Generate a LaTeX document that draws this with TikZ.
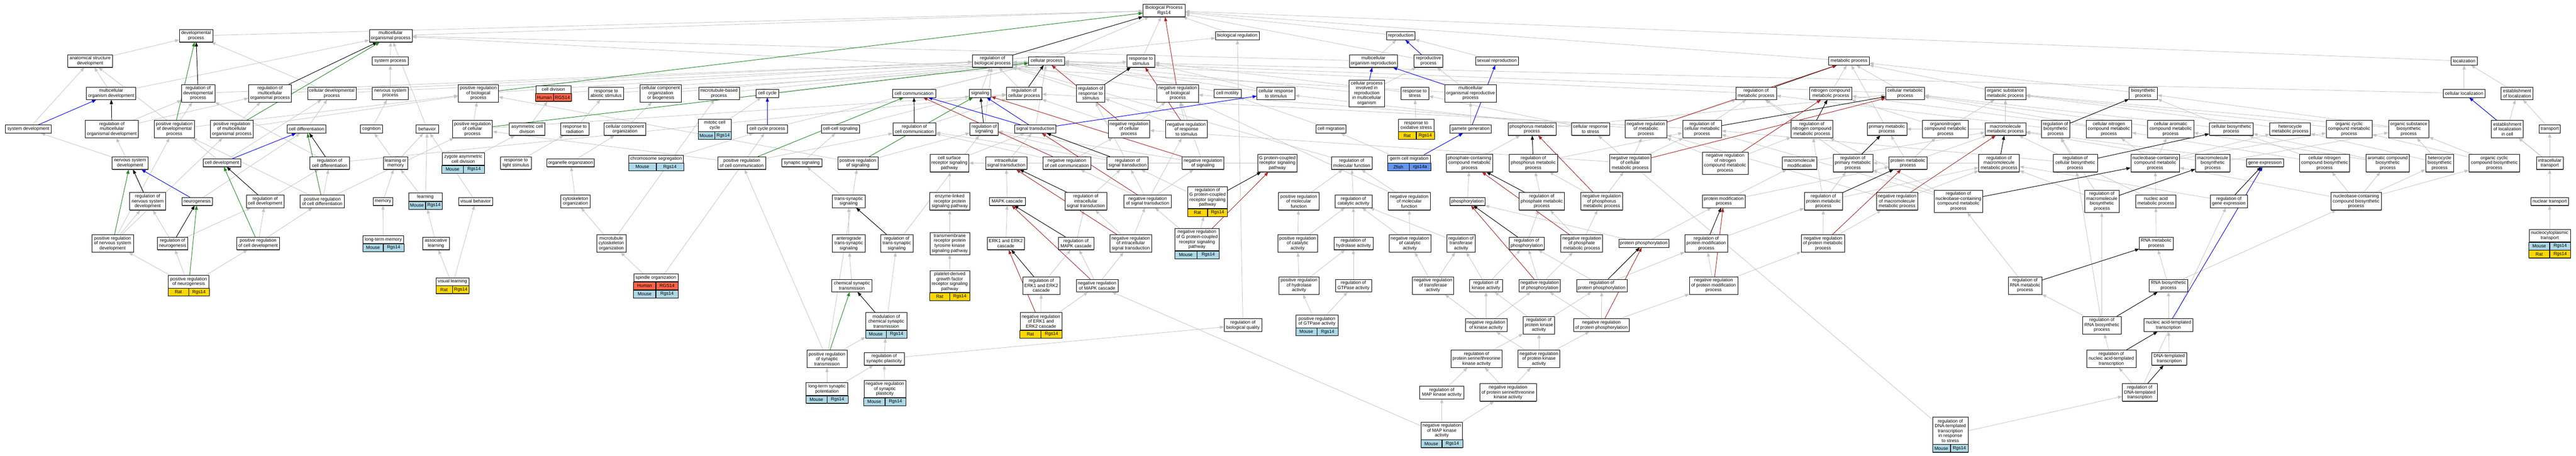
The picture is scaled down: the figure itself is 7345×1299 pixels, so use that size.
\documentclass[tikz,border=0pt]{standalone}
\usepackage{fontspec}
\setmainfont{Liberation Sans}
\usepackage{tikz}
\usetikzlibrary{positioning, arrows, arrows.meta, shapes, calc, fit, shadows, backgrounds}
\definecolor{mousebg}{HTML}{ADD8E6}
\definecolor{ratbg}{HTML}{FFD700}
\definecolor{humanbg}{HTML}{FF6347}
\definecolor{fishbg}{HTML}{6495ED}
\definecolor{isagray}{HTML}{C4C4C4}
\definecolor{posgreen}{HTML}{228B22}
\definecolor{negred}{HTML}{B22222}
\tikzstyle{term} = [rectangle, draw=black, line width=0.9pt, fill=white, align=center, inner xsep=3pt, inner ysep=1pt, font=\fontsize{13}{14}\selectfont, drop shadow={shadow xshift=0.4pt, shadow yshift=-1.4pt, fill=black!60, opacity=1}]
\tikzstyle{oneline} = [term, minimum height=23pt]
\tikzstyle{twoline} = [term, minimum height=36pt]
\tikzstyle{threeline} = [term, minimum height=50pt]
\tikzstyle{fourline} = [term, minimum height=63pt]
\tikzstyle{fiveline} = [term, minimum height=77pt]
\tikzstyle{mouse} = [term, fill=mousebg, minimum height=22pt]
\tikzstyle{rat} = [term, fill=ratbg, minimum height=22pt]
\tikzstyle{human} = [term, fill=humanbg, minimum height=22pt]
\tikzstyle{zfish} = [term, fill=fishbg, minimum height=22pt]
\tikzstyle{isa} = [draw=isagray, line width=1.2pt, -{Triangle[length=12pt,width=9pt]}]
\tikzstyle{regarrow} = [draw=black, line width=1.4pt, -{Triangle[length=12pt,width=9pt]}]
\tikzstyle{posarrow} = [draw=posgreen, line width=1.4pt, -{Triangle[length=12pt,width=9pt]}]
\tikzstyle{negarrow} = [draw=negred, line width=1.4pt, -{Triangle[length=12pt,width=9pt]}]
\tikzstyle{partarrow} = [draw=blue, line width=1.4pt, -{Triangle[length=12pt,width=9pt]}]
\tikzset{wd/.style={minimum width=#1}}
% annotated term: name, x, y, width, title height, row style, species, gene, title
\newcommand{\goannot}[9]{%
  \node (#1T) [term, wd=#4pt, minimum height=#5pt] at (#2,#3) {#9};
  \node (#1S) [#6, wd=#4pt/2, anchor=north east] at (#1T.south) {#7};
  \node (#1G) [#6, wd=#4pt/2, anchor=north west] at (#1T.south) {#8};
  \node (#1) [fit=(#1T)(#1S)(#1G), inner sep=0pt] {};}

\begin{document}
\begin{tikzpicture}[x=1pt, y=-1pt]
        \useasboundingbox (0,0) rectangle (7345,1299);

        \node (bp) [twoline, wd=120pt] at (3319,30) {Biological Process\\Rgs14};

        \node (devproc) [twoline, wd=95pt] at (559,102) {developmental\\process};
        \node (multiproc) [twoline, wd=122pt] at (1114,102) {multicellular\\organismal process};
        \node (bioreg) [oneline, wd=124pt] at (3528,102) {biological regulation};
        \node (reprod) [oneline, wd=80pt] at (3994,102) {reproduction};

        \node (anat) [twoline, wd=128pt] at (257,174) {anatomical structure\\development};
        \node (sysproc) [oneline, wd=103pt] at (1113,174) {system process};
        \node (regbp) [twoline, wd=115pt] at (2830,174) {regulation of\\biological process};
        \node (cellproc) [oneline, wd=102pt] at (2984,174) {cellular process};
        \node (respstim) [twoline, wd=79pt] at (3253,174) {response to\\stimulus};
        \node (multirep) [twoline, wd=138pt] at (3916,174) {multicellular\\organism reproduction};
        \node (repproc) [twoline, wd=82pt] at (4073,174) {reproductive\\process};
        \node (sexrep) [oneline, wd=122pt] at (4268,174) {sexual reproduction};
        \node (metproc) [oneline, wd=115pt] at (5272,174) {metabolic process};
        \node (local) [oneline, wd=75pt] at (7026,174) {localization};

        \node (multidev) [twoline, wd=141pt] at (317,266) {multicellular\\organism development};
        \node (regdev) [threeline, wd=95pt] at (565,266) {regulation of\\developmental\\process};
        \node (regmulti) [threeline, wd=122pt] at (770,266) {regulation of\\multicellular\\organismal process};
        \node (celldevproc) [twoline, wd=138pt] at (946,266) {cellular developmental\\process};
        \node (nsproc) [twoline, wd=103pt] at (1113,266) {nervous system\\process};
        \node (posregbp) [threeline, wd=114pt] at (1364,266) {positive regulation\\of biological\\process};
        \goannot{celldiv}{1578}{255}{101}{22}{human}{Human}{RGS14}{cell division}
        \node (respabio) [twoline, wd=101pt] at (1728,266) {response to\\abiotic stimulus};
        \node (ccob) [threeline, wd=118pt] at (1884,266) {cellular component\\organization\\or biogenesis};
        \node (mtproc) [twoline, wd=116pt] at (2050,266) {microtubule-based\\process};
        \node (cellcycle) [oneline, wd=64pt] at (2188,266) {cell cycle};
        \node (cellcomm) [oneline, wd=123pt] at (2606,266) {cell communication};
        \node (signaling) [oneline, wd=62pt] at (2795,266) {signaling};
        \node (regcellproc) [twoline, wd=101pt] at (2920,266) {regulation of\\cellular process};
        \node (regresp) [threeline, wd=81pt] at (3110,266) {regulation of\\response to\\stimulus};
        \node (negregbp) [threeline, wd=118pt] at (3358,266) {negative regulation\\of biological\\process};
        \node (cellmot) [oneline, wd=77pt] at (3500,266) {cell motility};
        \node (cellrespstim) [twoline, wd=108pt] at (3638,266) {cellular response\\to stimulus};
        \node (celrepmulti) [fiveline, wd=101pt] at (3897,266) {cellular process\\involved in\\reproduction\\in multicellular\\organism};
        \node (respstress) [twoline, wd=79pt] at (4034,266) {response to\\stress};
        \node (multireprod) [threeline, wd=148pt] at (4193,266) {multicellular\\organismal reproductive\\process};
        \node (regmet) [twoline, wd=116pt] at (5007,266) {regulation of\\metabolic process};
        \node (nitromet) [twoline, wd=120pt] at (5220,266) {nitrogen compound\\metabolic process};
        \node (cellmet) [twoline, wd=110pt] at (5432,266) {cellular metabolic\\process};
        \node (orgsubmet) [twoline, wd=116pt] at (5718,266) {organic substance\\metabolic process};
        \node (biosyn) [twoline, wd=81pt] at (6111,266) {biosynthetic\\process};
        \node (cellloc) [oneline, wd=119pt] at (7026,266) {cellular localization};
        \node (estloc) [twoline, wd=91pt] at (7177,266) {establishment\\of localization};

        \node (sysdev) [oneline, wd=131pt] at (81,368) {system development};
        \node (regmultidev) [threeline, wd=151pt] at (319,368) {regulation of\\multicellular\\organismal development};
        \node (posregdev) [threeline, wd=115pt] at (497,368) {positive regulation\\of developmental\\process};
        \node (posregmulti) [threeline, wd=122pt] at (661,368) {positive regulation\\of multicellular\\organismal process};
        \node (celldiff) [oneline, wd=111pt] at (874,368) {cell differentiation};
        \node (cognition) [oneline, wd=63pt] at (1059,368) {cognition};
        \node (behavior) [oneline, wd=65pt] at (1218,368) {behavior};
        \node (posregcellproc) [threeline, wd=114pt] at (1347,368) {positive regulation\\of cellular\\process};
        \node (asymdiv) [twoline, wd=101pt] at (1503,368) {asymmetric cell\\division};
        \node (resprad) [twoline, wd=80pt] at (1639,368) {response to\\radiation};
        \node (cco) [twoline, wd=119pt] at (1782,368) {cellular component\\organization};
        \goannot{mitotic}{2038}{357}{94}{35}{mouse}{Mouse}{Rgs14}{mitotic cell\\cycle}
        \node (ccproc) [oneline, wd=114pt] at (2188,368) {cell cycle process};
        \node (ccsig) [oneline, wd=109pt] at (2396,368) {cell-cell signaling};
        \node (regcellcomm) [twoline, wd=123pt] at (2607,368) {regulation of\\cell communication};
        \node (regsig) [twoline, wd=81pt] at (2806,368) {regulation of\\signaling};
        \node (sigtrans) [oneline, wd=118pt] at (2952,368) {signal transduction};
        \node (negregcellproc) [threeline, wd=118pt] at (3219,368) {negative regulation\\of cellular\\process};
        \node (negregresp) [threeline, wd=118pt] at (3383,368) {negative regulation\\of response\\to stimulus};
        \node (cellmig) [oneline, wd=86pt] at (3795,368) {cell migration};
        \goannot{oxstress}{4038}{357}{102}{35}{rat}{Rat}{Rgs14}{response to\\oxidative stress}
        \node (gamete) [oneline, wd=117pt] at (4193,368) {gamete generation};
        \node (phosmet) [twoline, wd=137pt] at (4368,368) {phosphorus metabolic\\process};
        \node (cellrespstress) [twoline, wd=108pt] at (4535,368) {cellular response\\to stress};
        \node (negregmet) [threeline, wd=119pt] at (4693,368) {negative regulation\\of metabolic\\process};
        \node (regcellmet) [threeline, wd=111pt] at (4853,368) {regulation of\\cellular metabolic\\process};
        \node (regnitro) [threeline, wd=119pt] at (5166,368) {regulation of\\nitrogen compound\\metabolic process};
        \node (primmet) [twoline, wd=113pt] at (5380,368) {primary metabolic\\process};
        \node (orgnitro) [threeline, wd=131pt] at (5547,368) {organonitrogen\\compound metabolic\\process};
        \node (macromet) [twoline, wd=116pt] at (5718,368) {macromolecule\\metabolic process};
        \node (regbiosyn) [threeline, wd=81pt] at (5861,368) {regulation of\\biosynthetic\\process};
        \node (cellnitro) [threeline, wd=130pt] at (6013,368) {cellular nitrogen\\compound metabolic\\process};
        \node (cellarom) [threeline, wd=132pt] at (6189,368) {cellular aromatic\\compound metabolic\\process};
        \node (cellbiosyn) [twoline, wd=125pt] at (6362,368) {cellular biosynthetic\\process};
        \node (hetmet) [twoline, wd=116pt] at (6530,368) {heterocycle\\metabolic process};
        \node (orgcycmet) [threeline, wd=131pt] at (6698,368) {organic cyclic\\compound metabolic\\process};
        \node (orgsubbio) [threeline, wd=115pt] at (6868,368) {organic substance\\biosynthetic\\process};
        \node (estloccell) [threeline, wd=91pt] at (7149,368) {establishment\\of localization\\in cell};
        \node (transport) [oneline, wd=61pt] at (7270,368) {transport};

        \node (nsdev) [twoline, wd=103pt] at (371,465) {nervous system\\development};
        \node (celldev) [oneline, wd=108pt] at (633,464) {cell development};
        \node (regcelldiff) [twoline, wd=112pt] at (940,465) {regulation of\\cell differentiation};
        \node (learnmem) [twoline, wd=70pt] at (1128,465) {learning or\\memory};
        \goannot{zygote}{1321}{453}{121}{35}{mouse}{Mouse}{Rgs14}{zygote asymmetric\\cell division}
        \node (resplight) [twoline, wd=87pt] at (1471,465) {response to\\light stimulus};
        \node (organelle) [oneline, wd=135pt] at (1627,464) {organelle organization};
        \goannot{chromseg}{1871}{453}{156}{22}{mouse}{Mouse}{Rgs14}{chromosome segregation}
        \node (posregcellcomm) [twoline, wd=137pt] at (2115,465) {positive regulation\\of cell communication};
        \node (synsig) [oneline, wd=114pt] at (2286,464) {synaptic signaling};
        \node (posregsig) [twoline, wd=114pt] at (2446,465) {positive regulation\\of signaling};
        \node (csrsp) [threeline, wd=111pt] at (2707,465) {cell surface\\receptor signaling\\pathway};
        \node (intrasig) [twoline, wd=118pt] at (2869,465) {intracellular\\signal transduction};
        \node (negregcellcomm) [twoline, wd=136pt] at (3042,465) {negative regulation\\of cell communication};
        \node (regsigtrans) [twoline, wd=118pt] at (3215,465) {regulation of\\signal transduction};
        \node (negregsig) [twoline, wd=119pt] at (3430,465) {negative regulation\\of signaling};
        \node (gpcr) [threeline, wd=112pt] at (3642,465) {G protein-coupled\\receptor signaling\\pathway};
        \node (regmolfunc) [twoline, wd=116pt] at (3854,465) {regulation of\\molecular function};
        \goannot{germmig}{4018}{453}{122}{22}{zfish}{Zfish}{rgs14a}{germ cell migration}
        \node (phoscont) [threeline, wd=133pt] at (4190,465) {phosphate-containing\\compound metabolic\\process};
        \node (regphosmet) [threeline, wd=138pt] at (4372,465) {regulation of\\phosphorus metabolic\\process};
        \node (negregcellmet) [threeline, wd=118pt] at (4648,465) {negative regulation\\of cellular\\metabolic process};
        \node (negregnitro) [fourline, wd=131pt] at (4919,465) {negative regulation\\of nitrogen\\compound metabolic\\process};
        \node (macromod) [twoline, wd=98pt] at (5131,465) {macromolecule\\modification};
        \node (regprimmet) [threeline, wd=113pt] at (5283,465) {regulation of\\primary metabolic\\process};
        \node (protmet) [twoline, wd=108pt] at (5440,465) {protein metabolic\\process};
        \node (regmacromet) [threeline, wd=116pt] at (5700,465) {regulation of\\macromolecule\\metabolic process};
        \node (regcellbiosyn) [threeline, wd=126pt] at (5917,465) {regulation of\\cellular biosynthetic\\process};
        \node (nucmet) [threeline, wd=139pt] at (6145,465) {nucleobase-containing\\compound metabolic\\process};
        \node (macrobiosyn) [threeline, wd=98pt] at (6309,465) {macromolecule\\biosynthetic\\process};
        \node (geneexp) [oneline, wd=105pt] at (6458,464) {gene expression};
        \node (cellnitrobio) [threeline, wd=143pt] at (6628,465) {cellular nitrogen\\compound biosynthetic\\process};
        \node (arombio) [threeline, wd=124pt] at (6808,465) {aromatic compound\\biosynthetic\\process};
        \node (hetbio) [threeline, wd=80pt] at (6956,465) {heterocycle\\biosynthetic\\process};
        \node (orgcycbio) [threeline, wd=145pt] at (7112,465) {organic cyclic\\compound biosynthetic\\process};
        \node (intratrans) [twoline, wd=76pt] at (7270,465) {intracellular\\transport};

        \node (regnsdev) [threeline, wd=103pt] at (421,574) {regulation of\\nervous system\\development};
        \node (neurogen) [oneline, wd=87pt] at (562,574) {neurogenesis};
        \node (regcelldev) [twoline, wd=108pt] at (756,574) {regulation of\\cell development};
        \node (posregcelldiff) [twoline, wd=126pt] at (919,574) {positive regulation\\of cell differentiation};
        \node (memory) [oneline, wd=57pt] at (1092,574) {memory};
        \goannot{learning}{1213}{562}{95}{23}{mouse}{Mouse}{Rgs14}{learning}
        \node (visbeh) [oneline, wd=97pt] at (1356,574) {visual behavior};
        \node (cytoskel) [twoline, wd=84pt] at (1641,574) {cytoskeleton\\organization};
        \node (transsyn) [twoline, wd=93pt] at (2420,574) {trans-synaptic\\signaling};
        \node (enzlink) [threeline, wd=114pt] at (2708,574) {enzyme-linked\\receptor protein\\signaling pathway};
        \node (mapk) [oneline, wd=102pt] at (2872,574) {MAPK cascade};
        \node (regintrasig) [threeline, wd=119pt] at (3096,574) {regulation of\\intracellular\\signal transduction};
        \node (negregsigtrans) [twoline, wd=134pt] at (3272,574) {negative regulation\\of signal transduction};
        \goannot{reggpcr}{3443}{563}{113}{62}{rat}{Rat}{Rgs14}{regulation of\\G protein-coupled\\receptor signaling\\pathway}
        \node (posregmolfunc) [threeline, wd=116pt] at (3703,574) {positive regulation\\of molecular\\function};
        \node (regcatact) [twoline, wd=106pt] at (3859,574) {regulation of\\catalytic activity};
        \node (negregmolfunc) [threeline, wd=120pt] at (4018,574) {negative regulation\\of molecular\\function};
        \node (phosphoryl) [oneline, wd=101pt] at (4184,574) {phosphorylation};
        \node (regphosphate) [threeline, wd=130pt] at (4396,574) {regulation of\\phosphate metabolic\\process};
        \node (negregphosmet) [threeline, wd=119pt] at (4567,574) {negative regulation\\of phosphorus\\metabolic process};
        \node (protmod) [twoline, wd=123pt] at (4915,574) {protein modification\\process};
        \node (regprotmet) [threeline, wd=109pt] at (5199,574) {regulation of\\protein metabolic\\process};
        \node (negregmacromet) [threeline, wd=117pt] at (5409,574) {negative regulation\\of macromolecule\\metabolic process};
        \node (regnucmet) [fourline, wd=138pt] at (5584,574) {regulation of\\nucleobase-containing\\compound metabolic\\process};
        \node (regmacrobio) [fourline, wd=98pt] at (5993,574) {regulation of\\macromolecule\\biosynthetic\\process};
        \node (nucacidmet) [twoline, wd=115pt] at (6147,574) {nucleic acid\\metabolic process};
        \node (reggeneexp) [twoline, wd=106pt] at (6355,574) {regulation of\\gene expression};
        \node (nucbiosyn) [threeline, wd=143pt] at (6718,574) {nucleobase-containing\\compound biosynthetic\\process};
        \node (nuctrans) [oneline, wd=107pt] at (7270,574) {nuclear transport};

        \node (posregnsdev) [threeline, wd=119pt] at (321,694) {positive regulation\\of nervous system\\development};
        \node (regneuro) [twoline, wd=87pt] at (492,694) {regulation of\\neurogenesis};
        \node (posregcelldev) [twoline, wd=122pt] at (736,694) {positive regulation\\of cell development};
        \goannot{ltmem}{1093}{683}{116}{22}{mouse}{Mouse}{Rgs14}{long-term memory}
        \node (assoc) [twoline, wd=77pt] at (1243,694) {associative\\learning};
        \node (mtcyto) [threeline, wd=84pt] at (1743,694) {microtubule\\cytoskeleton\\organization};
        \node (anterograde) [threeline, wd=95pt] at (2420,694) {anterograde\\trans-synaptic\\signaling};
        \node (regtranssyn) [threeline, wd=93pt] at (2557,694) {regulation of\\trans-synaptic\\signaling};
        \node (trptk) [fourline, wd=113pt] at (2708,694) {transmembrane\\receptor protein\\tyrosine kinase\\signaling pathway};
        \node (erk) [twoline, wd=106pt] at (2868,694) {ERK1 and ERK2\\cascade};
        \node (regmapk) [twoline, wd=101pt] at (3068,694) {regulation of\\MAPK cascade};
        \node (negregintrasig) [threeline, wd=119pt] at (3224,694) {negative regulation\\of intracellular\\signal transduction};
        \goannot{negreggpcr}{3413}{683}{126}{63}{mouse}{Mouse}{Rgs14}{negative regulation\\of G protein-coupled\\receptor signaling\\pathway}
        \node (posregcatact) [threeline, wd=114pt] at (3700,694) {positive regulation\\of catalytic\\activity};
        \node (reghydro) [twoline, wd=112pt] at (3859,694) {regulation of\\hydrolase activity};
        \node (negregcatact) [threeline, wd=119pt] at (4020,694) {negative regulation\\of catalytic\\activity};
        \node (regtransf) [threeline, wd=81pt] at (4166,694) {regulation of\\transferase\\activity};
        \node (regphosphoryl) [twoline, wd=100pt] at (4353,694) {regulation of\\phosphorylation};
        \node (negregphosphate) [threeline, wd=119pt] at (4510,694) {negative regulation\\of phosphate\\metabolic process};
        \node (protphos) [oneline, wd=143pt] at (4687,694) {protein phosphorylation};
        \node (regprotmod) [threeline, wd=122pt] at (4865,694) {regulation of\\protein modification\\process};
        \node (negregprotmet) [threeline, wd=124pt] at (5198,694) {negative regulation\\of protein metabolic\\process};
        \node (rnamet) [twoline, wd=96pt] at (6148,694) {RNA metabolic\\process};
        \node (nucytoT) [twoline, wd=118pt, minimum height=35pt] at (7270,672) {nucleocytoplasmic\\transport};
        \node (nucytoA) [mouse, wd=59pt, anchor=north east] at (nucytoT.south) {Mouse};
        \node (nucytoB) [mouse, wd=59pt, anchor=north west] at (nucytoT.south) {Rgs14};
        \node (nucytoC) [rat, wd=59pt, anchor=north east] at (nucytoA.south east) {Rat};
        \node (nucytoD) [rat, wd=59pt, anchor=north west] at (nucytoB.south west) {Rgs14};
        \node (nucyto) [fit=(nucytoT)(nucytoC)(nucytoD), inner sep=0pt] {};

        \goannot{posregneuro}{538}{803}{116}{36}{rat}{Rat}{Rgs14}{positive regulation\\of neurogenesis}
        \goannot{vislearn}{1290}{803}{94}{22}{rat}{Rat}{Rgs14}{visual learning}
        \node (spindleT) [term, wd=126pt, minimum height=22pt] at (1870,792) {spindle organization};
        \node (spindleA) [human, wd=63pt, anchor=north east] at (spindleT.south) {Human};
        \node (spindleB) [human, wd=63pt, anchor=north west] at (spindleT.south) {RGS14};
        \node (spindleC) [mouse, wd=63pt, anchor=north east] at (spindleA.south east) {Mouse};
        \node (spindleD) [mouse, wd=63pt, anchor=north west] at (spindleB.south west) {Rgs14};
        \node (spindle) [fit=(spindleT)(spindleC)(spindleD), inner sep=0pt] {};
        \node (chemsyn) [twoline, wd=115pt] at (2429,814) {chemical synaptic\\transmission};
        \goannot{pdgf}{2708}{803}{113}{62}{rat}{Rat}{Rgs14}{platelet-derived\\growth factor\\receptor signaling\\pathway}
        \node (regerk) [threeline, wd=106pt] at (2969,814) {regulation of\\ERK1 and ERK2\\cascade};
        \node (negregmapk) [twoline, wd=119pt] at (3128,814) {negative regulation\\of MAPK cascade};
        \node (posreghydro) [threeline, wd=114pt] at (3704,814) {positive regulation\\of hydrolase\\activity};
        \node (reggtpase) [twoline, wd=103pt] at (3859,814) {regulation of\\GTPase activity};
        \node (negregtransf) [threeline, wd=118pt] at (4086,814) {negative regulation\\of transferase\\activity};
        \node (regkinase) [twoline, wd=95pt] at (4237,814) {regulation of\\kinase activity};
        \node (negregphosphoryl) [twoline, wd=118pt] at (4390,814) {negative regulation\\of phosphorylation};
        \node (regprotphos) [twoline, wd=144pt] at (4567,814) {regulation of\\protein phosphorylation};
        \node (negregprotmod) [threeline, wd=138pt] at (4886,814) {negative regulation\\of protein modification\\process};
        \node (regrnamet) [threeline, wd=96pt] at (5774,814) {regulation of\\RNA metabolic\\process};
        \node (rnabiosyn) [twoline, wd=110pt] at (6183,814) {RNA biosynthetic\\process};

        \goannot{modulation}{2527}{916}{117}{50}{mouse}{Mouse}{Rgs14}{modulation of\\chemical synaptic\\transmission}
        \goannot{negregerk}{2968}{916}{119}{50}{rat}{Rat}{Rgs14}{negative regulation\\of ERK1 and\\ERK2 cascade}
        \node (regbq) [twoline, wd=107pt] at (3544,927) {regulation of\\biological quality};
        \goannot{posreggtpase}{3755}{916}{120}{36}{mouse}{Mouse}{Rgs14}{positive regulation\\of GTPase activity}
        \node (negregkinase) [twoline, wd=119pt] at (4237,927) {negative regulation\\of kinase activity};
        \node (regprotkinase) [threeline, wd=90pt] at (4388,927) {regulation of\\protein kinase\\activity};
        \node (negregprotphos) [twoline, wd=158pt] at (4566,927) {negative regulation\\of protein phosphorylation};
        \node (regrnabiosyn) [threeline, wd=111pt] at (5993,927) {regulation of\\RNA biosynthetic\\process};
        \node (natt) [twoline, wd=140pt] at (6183,927) {nucleic acid-templated\\transcription};

        \node (posregsyntrans) [threeline, wd=115pt] at (2358,1023) {positive regulation\\of synaptic\\transmission};
        \node (regsynplast) [twoline, wd=115pt] at (2521,1023) {regulation of\\synaptic plasticity};
        \node (regstk) [threeline, wd=145pt] at (4210,1023) {regulation of\\protein serine/threonine\\kinase activity};
        \node (negregprotkinase) [threeline, wd=119pt] at (4388,1023) {negative regulation\\of protein kinase\\activity};
        \node (regnatt) [threeline, wd=141pt] at (6020,1023) {regulation of\\nucleic acid-templated\\transcription};
        \node (dtt) [twoline, wd=99pt] at (6185,1023) {DNA-templated\\transcription};

        \goannot{ltsp}{2358}{1109}{119}{36}{mouse}{Mouse}{Rgs14}{long-term synaptic\\potentiation}
        \goannot{negregsynplast}{2523}{1109}{119}{49}{mouse}{Mouse}{Rgs14}{negative regulation\\of synaptic\\plasticity}
        \node (regmapkinase) [twoline, wd=127pt] at (4111,1119) {regulation of\\MAP kinase activity};
        \node (negregstk) [threeline, wd=161pt] at (4300,1119) {negative regulation\\of protein serine/threonine\\kinase activity};
        \node (regdtt) [threeline, wd=99pt] at (6101,1119) {regulation of\\DNA-templated\\transcription};

        \goannot{negregmapkinase}{4111}{1228}{118}{50}{mouse}{Mouse}{Rgs14}{negative regulation\\of MAP kinase\\activity}
        \goannot{regdttstress}{5561}{1228}{101}{77}{mouse}{Mouse}{Rgs14}{regulation of\\DNA-templated\\transcription\\in response\\to stress}

        \begin{pgfonlayer}{background}
        \fill [white] (0,0) rectangle (7345,1299);
        % is_a
        \draw [isa] (devproc) -- (bp);
        \draw [isa] (multiproc) -- (bp);
        \draw [isa] (anat) -- (devproc);
        \draw [isa] (multidev) -- (anat);
        \draw [isa] (multidev) -- (multiproc);
        \draw [isa] (sysproc) -- (multiproc);
        \draw [isa] (nsproc) -- (sysproc);
        \draw [isa] (regdev) -- (regbp);
        \draw [isa] (regmulti) -- (regbp);
        \draw [isa] (celldevproc) -- (devproc);
        \draw [isa] (celldevproc) -- (cellproc);
        \draw [isa] (sysdev) -- (anat);
        \draw [isa] (regmultidev) -- (regdev);
        \draw [isa] (regmultidev) -- (regmulti);
        \draw [isa] (posregdev) -- (regdev);
        \draw [isa] (posregdev) -- (posregbp);
        \draw [isa] (posregmulti) -- (regmulti);
        \draw [isa] (posregmulti) -- (posregbp);
        \draw [isa] (celldiff) -- (celldevproc);
        \draw [isa] (cognition) -- (nsproc);
        \draw [isa] (behavior) -- (multiproc);
        \draw [isa] (nsdev) -- (sysdev);
        \draw [isa] (celldev) -- (anat);
        \draw [isa] (celldev) -- (celldevproc);
        \draw [isa] (regcelldiff) -- (regdev);
        \draw [isa] (regcelldiff) -- (regcellproc);
        \draw [isa] (learnmem) -- (cognition);
        \draw [isa] (learnmem) -- (behavior);
        \draw [isa] (regnsdev) -- (regmultidev);
        \draw [isa] (neurogen) -- (celldiff);
        \draw [isa] (regcelldev) -- (regcelldiff);
        \draw [isa] (posregcelldiff) -- (regcelldiff);
        \draw [isa] (posregcelldiff) -- (posregdev);
        \draw [isa] (posregcelldiff) -- (posregcellproc);
        \draw [isa] (memory) -- (learnmem);
        \draw [isa] (learning) -- (learnmem);
        \draw [isa] (learning) -- (behavior);
        \draw [isa] (posregnsdev) -- (regnsdev);
        \draw [isa] (posregnsdev) -- (posregmulti);
        \draw [isa] (posregnsdev) -- (posregdev);
        \draw [isa] (regneuro) -- (regnsdev);
        \draw [isa] (regneuro) -- (regcelldev);
        \draw [isa] (posregcelldev) -- (regcelldev);
        \draw [isa] (posregcelldev) -- (posregcelldiff);
        \draw [isa] (posregneuro) -- (posregnsdev);
        \draw [isa] (posregneuro) -- (regneuro);
        \draw [isa] (posregneuro) -- (posregcelldev);
        \draw [isa] (ltmem) -- (memory);
        \draw [isa] (assoc) -- (learning);
        \draw [isa] (vislearn) -- (assoc);
        \draw [isa] (vislearn) -- (visbeh);
        \draw [isa] (posregbp) -- (regbp);
        \draw [isa] (celldiv) -- (cellproc);
        \draw [isa] (respabio) -- (respstim);
        \draw [isa] (ccob) -- (cellproc);
        \draw [isa] (mtproc) -- (cellproc);
        \draw [isa] (cellcycle) -- (cellproc);
        \draw [isa] (posregcellproc) -- (posregbp);
        \draw [isa] (posregcellproc) -- (regcellproc);
        \draw [isa] (asymdiv) -- (celldiv);
        \draw [isa] (resprad) -- (respabio);
        \draw [isa] (cco) -- (ccob);
        \draw [isa] (mitotic) -- (cellcycle);
        \draw [isa] (ccproc) -- (cellproc);
        \draw [isa] (ccsig) -- (signaling);
        \draw [isa] (zygote) -- (asymdiv);
        \draw [isa] (resplight) -- (resprad);
        \draw [isa] (organelle) -- (cco);
        \draw [isa] (chromseg) -- (ccproc);
        \draw [isa] (posregcellcomm) -- (regcellcomm);
        \draw [isa] (posregcellcomm) -- (posregcellproc);
        \draw [isa] (synsig) -- (ccsig);
        \draw [isa] (posregsig) -- (regsig);
        \draw [isa] (posregsig) -- (posregbp);
        \draw [isa] (visbeh) -- (behavior);
        \draw [isa] (cytoskel) -- (organelle);
        \draw [isa] (transsyn) -- (synsig);
        \draw [isa] (mtcyto) -- (cytoskel);
        \draw [isa] (mtcyto) -- (mtproc);
        \draw [isa] (spindle) -- (mtcyto);
        \draw [isa] (spindle) -- (ccproc);
        \draw [isa] (anterograde) -- (transsyn);
        \draw [isa] (chemsyn) -- (anterograde);
        \draw [isa] (posregsyntrans) -- (posregcellcomm);
        \draw [isa] (posregsyntrans) -- (posregsig);
        \draw [isa] (posregsyntrans) -- (modulation);
        \draw [isa] (modulation) -- (regtranssyn);
        \draw [isa] (ltsp) -- (posregsyntrans);
        \draw [isa] (ltsp) -- (regsynplast);
        \draw [isa] (regsynplast) -- (modulation);
        \draw [isa] (regsynplast) -- (regbq);
        \draw [isa] (negregsynplast) -- (regsynplast);
        \draw [isa] (cellproc) -- (bp);
        \draw [isa] (respstim) -- (bp);
        \draw [isa] (bioreg) -- (bp);
        \draw [isa] (regbp) -- (bioreg);
        \draw [isa] (negregbp) -- (regbp);
        \draw [isa] (cellcomm) -- (cellproc);
        \draw [isa] (signaling) -- (regbp);
        \draw [isa] (regcellproc) -- (regbp);
        \draw [isa] (regresp) -- (regbp);
        \draw [isa] (cellmot) -- (cellproc);
        \draw [isa] (cellrespstim) -- (respstim);
        \draw [isa] (cellrespstim) -- (cellproc);
        \draw [isa] (regcellcomm) -- (regcellproc);
        \draw [isa] (regsig) -- (regbp);
        \draw [isa] (sigtrans) -- (cellproc);
        \draw [isa] (negregcellproc) -- (negregbp);
        \draw [isa] (negregcellproc) -- (regcellproc);
        \draw [isa] (negregresp) -- (negregbp);
        \draw [isa] (negregresp) -- (regresp);
        \draw [isa] (csrsp) -- (sigtrans);
        \draw [isa] (intrasig) -- (sigtrans);
        \draw [isa] (negregcellcomm) -- (regcellcomm);
        \draw [isa] (negregcellcomm) -- (negregcellproc);
        \draw [isa] (regsigtrans) -- (regcellcomm);
        \draw [isa] (regsigtrans) -- (regsig);
        \draw [isa] (regsigtrans) -- (regresp);
        \draw [isa] (negregsig) -- (regsig);
        \draw [isa] (negregsig) -- (negregbp);
        \draw [isa] (gpcr) -- (csrsp);
        \draw [isa] (enzlink) -- (csrsp);
        \draw [isa] (mapk) -- (intrasig);
        \draw [isa] (regintrasig) -- (regsigtrans);
        \draw [isa] (negregsigtrans) -- (regsigtrans);
        \draw [isa] (negregsigtrans) -- (negregcellcomm);
        \draw [isa] (negregsigtrans) -- (negregsig);
        \draw [isa] (negregsigtrans) -- (negregresp);
        \draw [isa] (reggpcr) -- (regsigtrans);
        \draw [isa] (regtranssyn) -- (regsig);
        \draw [isa] (trptk) -- (enzlink);
        \draw [isa] (erk) -- (mapk);
        \draw [isa] (regmapk) -- (regintrasig);
        \draw [isa] (negregintrasig) -- (regintrasig);
        \draw [isa] (negregintrasig) -- (negregsigtrans);
        \draw [isa] (negreggpcr) -- (reggpcr);
        \draw [isa] (negreggpcr) -- (negregsigtrans);
        \draw [isa] (posregcatact) -- (regcatact);
        \draw [isa] (posregcatact) -- (posregmolfunc);
        \draw [isa] (posregmolfunc) -- (regmolfunc);
        \draw [isa] (pdgf) -- (trptk);
        \draw [isa] (regerk) -- (regmapk);
        \draw [isa] (negregmapk) -- (regmapk);
        \draw [isa] (negregmapk) -- (negregintrasig);
        \draw [isa] (posreghydro) -- (reghydro);
        \draw [isa] (posreghydro) -- (posregcatact);
        \draw [isa] (negregerk) -- (regerk);
        \draw [isa] (negregerk) -- (negregmapk);
        \draw [isa] (regbq) -- (bioreg);
        \draw [isa] (negregmapkinase) -- (negregmapk);
        \draw [isa] (reprod) -- (bp);
        \draw [isa] (multirep) -- (reprod);
        \draw [isa] (multirep) -- (multiproc);
        \draw [isa] (repproc) -- (bp);
        \draw [isa] (sexrep) -- (reprod);
        \draw [isa] (celrepmulti) -- (repproc);
        \draw [isa] (celrepmulti) -- (cellproc);
        \draw [isa] (respstress) -- (respstim);
        \draw [isa] (multireprod) -- (repproc);
        \draw [isa] (multireprod) -- (multiproc);
        \draw [isa] (cellmig) -- (cellmot);
        \draw [isa] (oxstress) -- (respstress);
        \draw [isa] (gamete) -- (multireprod);
        \draw [isa] (phosmet) -- (cellmet);
        \draw [isa] (cellrespstress) -- (respstress);
        \draw [isa] (cellrespstress) -- (cellrespstim);
        \draw [isa] (negregmet) -- (regmet);
        \draw [isa] (negregmet) -- (negregbp);
        \draw [isa] (regcellmet) -- (regmet);
        \draw [isa] (regcellmet) -- (regcellproc);
        \draw [isa] (regmolfunc) -- (regbp);
        \draw [isa] (germmig) -- (cellmig);
        \draw [isa] (phoscont) -- (phosmet);
        \draw [isa] (regphosmet) -- (regcellmet);
        \draw [isa] (negregcellmet) -- (negregmet);
        \draw [isa] (negregcellmet) -- (regcellmet);
        \draw [isa] (negregcellmet) -- (negregcellproc);
        \draw [isa] (negregnitro) -- (regnitro);
        \draw [isa] (negregnitro) -- (negregmet);
        \draw [isa] (regcatact) -- (regmolfunc);
        \draw [isa] (negregmolfunc) -- (regmolfunc);
        \draw [isa] (negregmolfunc) -- (negregbp);
        \draw [isa] (phosphoryl) -- (phoscont);
        \draw [isa] (regphosphate) -- (regphosmet);
        \draw [isa] (negregphosmet) -- (regphosmet);
        \draw [isa] (negregphosmet) -- (negregcellmet);
        \draw [isa] (protmod) -- (macromod);
        \draw [isa] (protmod) -- (protmet);
        \draw [isa] (reghydro) -- (regcatact);
        \draw [isa] (negregcatact) -- (regcatact);
        \draw [isa] (negregcatact) -- (negregmolfunc);
        \draw [isa] (regtransf) -- (regcatact);
        \draw [isa] (regphosphoryl) -- (regphosphate);
        \draw [isa] (negregphosphate) -- (regphosphate);
        \draw [isa] (negregphosphate) -- (negregphosmet);
        \draw [isa] (protphos) -- (phosphoryl);
        \draw [isa] (protphos) -- (protmod);
        \draw [isa] (regprotmod) -- (regprotmet);
        \draw [isa] (reggtpase) -- (reghydro);
        \draw [isa] (negregtransf) -- (negregcatact);
        \draw [isa] (negregtransf) -- (regtransf);
        \draw [isa] (regkinase) -- (regtransf);
        \draw [isa] (regkinase) -- (regphosphoryl);
        \draw [isa] (negregphosphoryl) -- (regphosphoryl);
        \draw [isa] (negregphosphoryl) -- (negregphosphate);
        \draw [isa] (regprotphos) -- (regphosphoryl);
        \draw [isa] (regprotphos) -- (regprotmod);
        \draw [isa] (negregprotmod) -- (regprotmod);
        \draw [isa] (negregprotmod) -- (negregprotmet);
        \draw [isa] (posreggtpase) -- (posreghydro);
        \draw [isa] (posreggtpase) -- (reggtpase);
        \draw [isa] (negregkinase) -- (negregtransf);
        \draw [isa] (negregkinase) -- (regkinase);
        \draw [isa] (negregkinase) -- (negregphosphoryl);
        \draw [isa] (regprotkinase) -- (regkinase);
        \draw [isa] (regprotkinase) -- (regprotphos);
        \draw [isa] (negregprotphos) -- (regprotphos);
        \draw [isa] (negregprotphos) -- (negregphosphoryl);
        \draw [isa] (negregprotphos) -- (negregprotmod);
        \draw [isa] (regstk) -- (regprotkinase);
        \draw [isa] (negregprotkinase) -- (regprotkinase);
        \draw [isa] (negregprotkinase) -- (negregkinase);
        \draw [isa] (negregprotkinase) -- (negregprotphos);
        \draw [isa] (regmapkinase) -- (regstk);
        \draw [isa] (negregstk) -- (regstk);
        \draw [isa] (negregstk) -- (negregprotkinase);
        \draw [isa] (negregmapkinase) -- (regmapkinase);
        \draw [isa] (negregmapkinase) -- (negregstk);
        \draw [isa] (metproc) -- (bp);
        \draw [isa] (regmet) -- (regbp);
        \draw [isa] (nitromet) -- (metproc);
        \draw [isa] (cellmet) -- (metproc);
        \draw [isa] (cellmet) -- (cellproc);
        \draw [isa] (orgsubmet) -- (metproc);
        \draw [isa] (biosyn) -- (metproc);
        \draw [isa] (regnitro) -- (regmet);
        \draw [isa] (primmet) -- (metproc);
        \draw [isa] (orgnitro) -- (nitromet);
        \draw [isa] (orgnitro) -- (orgsubmet);
        \draw [isa] (macromet) -- (orgsubmet);
        \draw [isa] (macromet) -- (primmet);
        \draw [isa] (regbiosyn) -- (regmet);
        \draw [isa] (cellnitro) -- (nitromet);
        \draw [isa] (cellnitro) -- (cellmet);
        \draw [isa] (cellarom) -- (cellmet);
        \draw [isa] (macromod) -- (macromet);
        \draw [isa] (regprimmet) -- (regmet);
        \draw [isa] (protmet) -- (primmet);
        \draw [isa] (protmet) -- (orgnitro);
        \draw [isa] (protmet) -- (macromet);
        \draw [isa] (regmacromet) -- (regprimmet);
        \draw [isa] (regcellbiosyn) -- (regbiosyn);
        \draw [isa] (regcellbiosyn) -- (regcellmet);
        \draw [isa] (nucmet) -- (cellarom);
        \draw [isa] (nucmet) -- (hetmet);
        \draw [isa] (nucmet) -- (orgcycmet);
        \draw [isa] (nucmet) -- (cellnitro);
        \draw [isa] (regprotmet) -- (regmacromet);
        \draw [isa] (regprotmet) -- (regprimmet);
        \draw [isa] (regprotmet) -- (regnitro);
        \draw [isa] (negregmacromet) -- (regmacromet);
        \draw [isa] (negregmacromet) -- (negregmet);
        \draw [isa] (regnucmet) -- (regcellmet);
        \draw [isa] (regnucmet) -- (regprimmet);
        \draw [isa] (regnucmet) -- (regnitro);
        \draw [isa] (regmacrobio) -- (regbiosyn);
        \draw [isa] (regmacrobio) -- (regmacromet);
        \draw [isa] (nucacidmet) -- (nucmet);
        \draw [isa] (nucacidmet) -- (macromet);
        \draw [isa] (negregprotmet) -- (regprotmet);
        \draw [isa] (negregprotmet) -- (negregmacromet);
        \draw [isa] (rnamet) -- (nucacidmet);
        \draw [isa] (regrnamet) -- (regnucmet);
        \draw [isa] (rnabiosyn) -- (rnamet);
        \draw [isa] (rnabiosyn) -- (nucbiosyn);
        \draw [isa] (regrnabiosyn) -- (regrnamet);
        \draw [isa] (regrnabiosyn) -- (regmacrobio);
        \draw [isa] (regrnabiosyn) -- (regcellbiosyn);
        \draw [isa] (natt) -- (rnabiosyn);
        \draw [isa] (regnatt) -- (regrnabiosyn);
        \draw [isa] (dtt) -- (natt);
        \draw [isa] (regdtt) -- (regnatt);
        \draw [isa] (regdtt) -- (reggeneexp);
        \draw [isa] (regdttstress) -- (regdtt);
        \draw [isa] (regdttstress) -- (cellrespstress);
        \draw [isa] (local) -- (bp);
        \draw [isa] (cellloc) -- (local);
        \draw [isa] (cellloc) -- (cellproc);
        \draw [isa] (estloc) -- (local);
        \draw [isa] (cellbiosyn) -- (biosyn);
        \draw [isa] (cellbiosyn) -- (cellmet);
        \draw [isa] (hetmet) -- (orgsubmet);
        \draw [isa] (orgcycmet) -- (orgsubmet);
        \draw [isa] (orgsubbio) -- (biosyn);
        \draw [isa] (orgsubbio) -- (orgsubmet);
        \draw [isa] (estloccell) -- (estloc);
        \draw [isa] (transport) -- (estloc);
        \draw [isa] (macrobiosyn) -- (macromet);
        \draw [isa] (macrobiosyn) -- (orgsubbio);
        \draw [isa] (geneexp) -- (macromet);
        \draw [isa] (cellnitrobio) -- (cellnitro);
        \draw [isa] (cellnitrobio) -- (cellbiosyn);
        \draw [isa] (arombio) -- (cellarom);
        \draw [isa] (arombio) -- (cellbiosyn);
        \draw [isa] (hetbio) -- (hetmet);
        \draw [isa] (hetbio) -- (orgsubbio);
        \draw [isa] (orgcycbio) -- (orgcycmet);
        \draw [isa] (orgcycbio) -- (orgsubbio);
        \draw [isa] (intratrans) -- (transport);
        \draw [isa] (intratrans) -- (estloccell);
        \draw [isa] (intratrans) -- (cellloc);
        \draw [isa] (reggeneexp) -- (regmacromet);
        \draw [isa] (nucbiosyn) -- (nucmet);
        \draw [isa] (nucbiosyn) -- (cellnitrobio);
        \draw [isa] (nucbiosyn) -- (arombio);
        \draw [isa] (nucbiosyn) -- (hetbio);
        \draw [isa] (nucbiosyn) -- (orgcycbio);
        \draw [isa] (nuctrans) -- (intratrans);
        \draw [isa] (nucyto) -- (nuctrans);
        % part_of
        \draw [partarrow] (sysdev) -- (multidev);
        \draw [partarrow] (celldev) -- (celldiff);
        \draw [partarrow] (neurogen) -- (nsdev);
        \draw [partarrow] (ccproc) -- (cellcycle);
        \draw [partarrow] (sigtrans) -- (cellcomm);
        \draw [partarrow] (sigtrans) -- (signaling);
        \draw [partarrow] (sigtrans) -- (cellrespstim);
        \draw [partarrow] (repproc) -- (reprod);
        \draw [partarrow] (celrepmulti) -- (multirep);
        \draw [partarrow] (multireprod) -- (multirep);
        \draw [partarrow] (gamete) -- (sexrep);
        \draw [partarrow] (germmig) -- (gamete);
        \draw [partarrow] (estloccell) -- (cellloc);
        \draw [partarrow] (natt) -- (geneexp);
        % regulates
        \draw [regarrow] (regdev) -- (devproc);
        \draw [regarrow] (regmulti) -- (multiproc);
        \draw [regarrow] (regmultidev) -- (multidev);
        \draw [regarrow] (regcelldiff) -- (celldiff);
        \draw [regarrow] (regnsdev) -- (nsdev);
        \draw [regarrow] (regcelldev) -- (celldev);
        \draw [regarrow] (regneuro) -- (neurogen);
        \draw [regarrow] (regbp) -- (bp);
        \draw [regarrow] (regcellproc) -- (cellproc);
        \draw [regarrow] (regresp) -- (respstim);
        \draw [regarrow] (regcellcomm) -- (cellcomm);
        \draw [regarrow] (regsig) -- (signaling);
        \draw [regarrow] (regsigtrans) -- (sigtrans);
        \draw [regarrow] (regintrasig) -- (intrasig);
        \draw [regarrow] (reggpcr) -- (gpcr);
        \draw [regarrow] (regtranssyn) -- (transsyn);
        \draw [regarrow] (regmapk) -- (mapk);
        \draw [regarrow] (regerk) -- (erk);
        \draw [regarrow] (modulation) -- (chemsyn);
        \draw [regarrow] (regcellmet) -- (cellmet);
        \draw [regarrow] (regphosmet) -- (phosmet);
        \draw [regarrow] (regphosphate) -- (phoscont);
        \draw [regarrow] (regphosphoryl) -- (phosphoryl);
        \draw [regarrow] (regprotphos) -- (protphos);
        \draw [regarrow] (regprotmod) -- (protmod);
        \draw [regarrow] (regmet) -- (metproc);
        \draw [regarrow] (regnitro) -- (nitromet);
        \draw [regarrow] (regbiosyn) -- (biosyn);
        \draw [regarrow] (regprimmet) -- (primmet);
        \draw [regarrow] (regmacromet) -- (macromet);
        \draw [regarrow] (regprotmet) -- (protmet);
        \draw [regarrow] (regnucmet) -- (nucmet);
        \draw [regarrow] (regcellbiosyn) -- (cellbiosyn);
        \draw [regarrow] (regmacrobio) -- (macrobiosyn);
        \draw [regarrow] (reggeneexp) -- (geneexp);
        \draw [regarrow] (regrnamet) -- (rnamet);
        \draw [regarrow] (regrnabiosyn) -- (rnabiosyn);
        \draw [regarrow] (regnatt) -- (natt);
        \draw [regarrow] (regdtt) -- (dtt);
        % positively regulates
        \draw [posarrow] (posregdev) -- (devproc);
        \draw [posarrow] (posregmulti) -- (multiproc);
        \draw [posarrow] (posregcelldiff) -- (celldiff);
        \draw [posarrow] (posregnsdev) -- (nsdev);
        \draw [posarrow] (posregcelldev) -- (celldev);
        \draw [posarrow] (posregneuro) -- (neurogen);
        \draw [posarrow] (posregbp) -- (bp);
        \draw [posarrow] (posregcellproc) -- (cellproc);
        \draw [posarrow] (posregcellcomm) -- (cellcomm);
        \draw [posarrow] (posregsig) -- (signaling);
        \draw [posarrow] (posregsyntrans) -- (chemsyn);
        % negatively regulates
        \draw [negarrow] (negregbp) -- (bp);
        \draw [negarrow] (negregcellproc) -- (cellproc);
        \draw [negarrow] (negregresp) -- (respstim);
        \draw [negarrow] (negregcellcomm) -- (cellcomm);
        \draw [negarrow] (negregsig) -- (signaling);
        \draw [negarrow] (negregsigtrans) -- (sigtrans);
        \draw [negarrow] (negregintrasig) -- (intrasig);
        \draw [negarrow] (negreggpcr) -- (gpcr);
        \draw [negarrow] (negregmapk) -- (mapk);
        \draw [negarrow] (negregerk) -- (erk);
        \draw [negarrow] (negregmet) -- (metproc);
        \draw [negarrow] (negregcellmet) -- (cellmet);
        \draw [negarrow] (negregnitro) -- (nitromet);
        \draw [negarrow] (negregphosmet) -- (phosmet);
        \draw [negarrow] (negregphosphate) -- (phoscont);
        \draw [negarrow] (negregphosphoryl) -- (phosphoryl);
        \draw [negarrow] (negregprotphos) -- (protphos);
        \draw [negarrow] (negregprotmod) -- (protmod);
        \draw [negarrow] (negregmacromet) -- (macromet);
        \draw [negarrow] (negregprotmet) -- (protmet);
        \end{pgfonlayer}

\end{tikzpicture}
\end{document}
